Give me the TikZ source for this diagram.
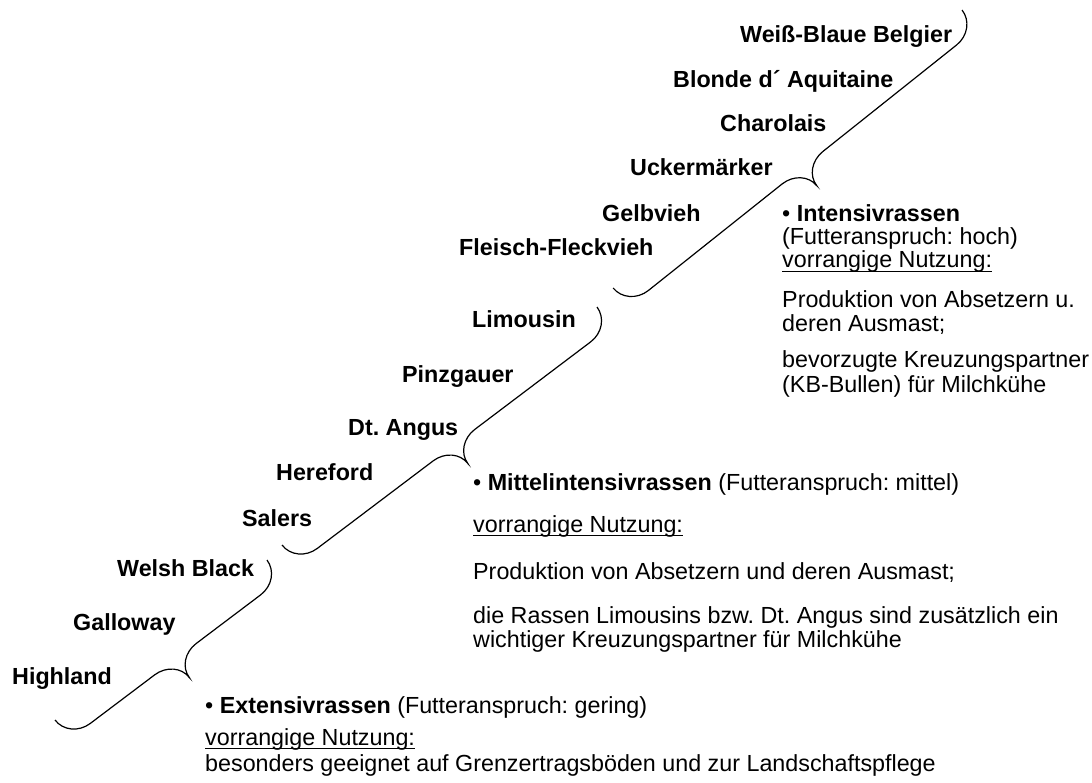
\documentclass[tikz,border=0pt]{standalone}
\usepackage{fontspec}
\setmainfont{Liberation Sans}
\usetikzlibrary{decorations.pathreplacing}
\frenchspacing

\newdimen\brL
\def\brc{26pt}
\def\brh{24pt}
\def\brt{47pt}
\pgfdeclaredecoration{curlybrace}{initial}{%
  \state{initial}[width=+\pgfdecoratedremainingdistance,next state=final]{%
    \brL=\pgfdecoratedremainingdistance\relax
    \pgfpathmoveto{\pgfpointorigin}%
    \pgfpathcurveto{\pgfpoint{0pt}{0.552*\brh}}{\pgfpoint{0.448*\brc}{\brh}}{\pgfpoint{\brc}{\brh}}%
    \pgfpathlineto{\pgfpoint{0.5*\brL-\brc}{\brh}}%
    \pgfpathcurveto{\pgfpoint{0.5*\brL-0.448*\brc}{\brh}}{\pgfpoint{0.5*\brL}{\brt-0.552*(\brt-\brh)}}{\pgfpoint{0.5*\brL}{\brt}}%
    \pgfpathcurveto{\pgfpoint{0.5*\brL}{\brt-0.552*(\brt-\brh)}}{\pgfpoint{0.5*\brL+0.448*\brc}{\brh}}{\pgfpoint{0.5*\brL+\brc}{\brh}}%
    \pgfpathlineto{\pgfpoint{\brL-\brc}{\brh}}%
    \pgfpathcurveto{\pgfpoint{\brL-0.448*\brc}{\brh}}{\pgfpoint{\brL}{0.552*\brh}}{\pgfpoint{\brL}{0pt}}%
  }%
  \state{final}{%
    \pgfpathmoveto{\pgfpointdecoratedpathlast}%
  }%
}

\newcommand\fs{\fontsize{23.3pt}{28pt}\selectfont\frenchspacing}
\newcommand\ulin[1]{\setbox0=\hbox{#1}\rlap{\rule[-4.2pt]{\wd0}{1.5pt}}\box0}

\tikzset{
  lbl/.style={anchor=base west, inner sep=0pt, font={\fs\bfseries}},
  txt/.style={anchor=base west, inner sep=0pt, font=\fs},
  brc/.style={draw, line width=1.2pt, decorate, decoration={curlybrace}},
}

\begin{document}
\begin{tikzpicture}[x=1pt,y=-1pt]
\useasboundingbox (0,0) rectangle (1092,783);

% breed labels
\node[lbl] (wbb) at (740,43)  {Weiß-Blaue Belgier};
\node[lbl] (bda) at (673,88)  {Blonde d´ Aquitaine};
\node[lbl] (cha) at (720,132) {Charolais};
\node[lbl] (uck) at (630,176) {Uckermärker};
\node[lbl] (gel) at (602,222) {Gelbvieh};
\node[lbl] (ffv) at (459,256) {Fleisch-Fleckvieh};
\node[lbl] (lim) at (472,328) {Limousin};
\node[lbl] (pin) at (402,382) {Pinzgauer};
\node[lbl] (dta) at (348,435) {Dt. Angus};
\node[lbl] (her) at (276,480) {Hereford};
\node[lbl] (sal) at (242,526) {Salers};
\node[lbl] (wel) at (117,576) {Welsh Black};
\node[lbl] (gal) at (73,630)  {Galloway};
\node[lbl] (hig) at (12,684)  {Highland};

% braces
\coordinate (b1top) at (267,560);
\coordinate (b1bot) at (55,720);
\coordinate (b2top) at (597,307);
\coordinate (b2bot) at (282,545);
\coordinate (b3top) at (962,10);
\coordinate (b3bot) at (613,288);
\path[brc] (b1top) -- (b1bot);
\path[brc] (b2top) -- (b2bot);
\path[brc] (b3top) -- (b3bot);

% Intensivrassen
\node[txt] (i1) at (782,222) {• \textbf{Intensivrassen}};
\node[txt] (i2) at (782,245) {(Futteranspruch: hoch)};
\node[txt] (i3) at (782,268) {\ulin{vorrangige Nutzung:}};
\node[txt] (i4) at (782,308) {Produktion von Absetzern u.};
\node[txt] (i5) at (782,332) {deren Ausmast;};
\node[txt] (i6) at (782,368) {bevorzugte Kreuzungspartner};
\node[txt] (i7) at (782,392) {(KB-Bullen) für Milchkühe};

% Mittelintensivrassen
\node[txt] (m1) at (473,490) {• \textbf{Mittelintensivrassen} (Futteranspruch: mittel)};
\node[txt] (m2) at (473,532) {\ulin{vorrangige Nutzung:}};
\node[txt] (m3) at (473,579) {Produktion von Absetzern und deren Ausmast;};
\node[txt] (m4) at (473,623) {die Rassen Limousins bzw. Dt. Angus sind zusätzlich ein};
\node[txt] (m5) at (473,647) {wichtiger Kreuzungspartner für Milchkühe};

% Extensivrassen
\node[txt] (e1) at (205,713) {• \textbf{Extensivrassen} (Futteranspruch: gering)};
\node[txt] (e2) at (205,745) {\ulin{vorrangige Nutzung:}};
\node[txt] (e3) at (205,771) {besonders geeignet auf Grenzertragsböden und zur Landschaftspflege};
\end{tikzpicture}
\end{document}
